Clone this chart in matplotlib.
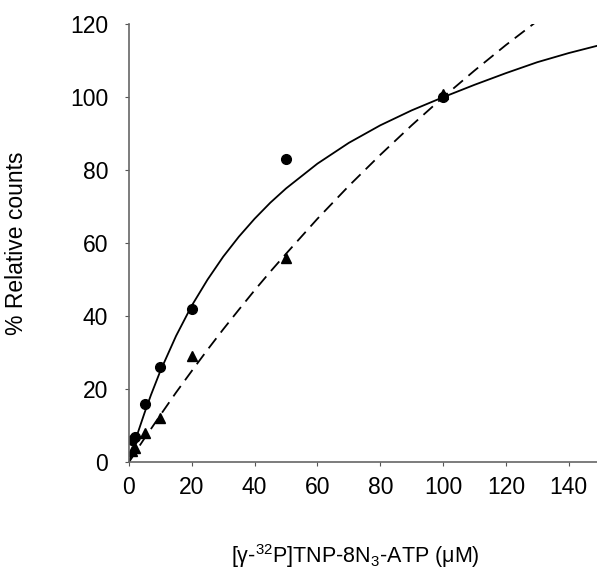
import matplotlib
matplotlib.use('Agg')
import matplotlib.pyplot as plt

plt.rcParams['font.family'] = ['Liberation Sans', 'DejaVu Sans']
plt.rcParams['mathtext.fontset'] = 'custom'
plt.rcParams['mathtext.rm'] = 'Liberation Sans'
plt.rcParams['mathtext.it'] = 'Liberation Sans:italic'

# measured points
conc_circ = [1, 2, 5, 10, 20, 50, 100]
counts_circ = [6, 7, 16, 26, 42, 83, 100]
conc_tri = [1, 2, 5, 10, 20, 50, 100]
counts_tri = [3, 4, 8, 12, 29, 56, 101]

# fitted curves
fit_x = [0, 1, 2, 3, 5, 7, 10, 15, 20, 25, 30, 35, 40, 45, 50, 60, 70, 80, 90,
         100, 110, 120, 130, 140, 150]
fit_solid = [0, 2.9, 5.8, 8.5, 13.6, 18.4, 25, 34.6, 42.9, 50.0, 56.3, 61.8, 66.7,
             71.1, 75, 81.8, 87.5, 92.3, 96.4, 100, 103.4, 106.6, 109.6, 112.1, 114.3]
fit_dash = [0, 1.3, 2.7, 4.0, 6.6, 9.1, 12.9, 19.1, 25, 30.8, 36.4, 41.8, 47.1,
            52.2, 57.1, 66.7, 75.7, 84.2, 92.3, 100, 107.3, 114.3, 120.9, 127.2, 133.3]

fig = plt.figure(figsize=(5.97, 5.77), dpi=100)
ax = fig.add_axes([0.216, 0.199, 0.784, 0.759])

ax.plot(fit_x, fit_solid, color='black', lw=1.3)
ax.plot(fit_x, fit_dash, color='black', lw=1.3, ls=(0, (7, 4)))
ax.plot(conc_circ, counts_circ, 'o', color='black', ms=7)
ax.plot(conc_tri, counts_tri, '^', color='black', ms=6.5)

ax.set_xlim(0, 149)
ax.set_ylim(0, 120)
ax.set_xticks(range(0, 141, 20))
ax.set_yticks(range(0, 121, 20))
ax.tick_params(labelsize=16.5, length=3, color='#555555')
ax.tick_params(axis='y', pad=12)
ax.tick_params(axis='x', pad=7)
for s in ['top', 'right']:
    ax.spines[s].set_visible(False)
for s in ['left', 'bottom']:
    ax.spines[s].set_color('#666666')
    ax.spines[s].set_linewidth(1.2)

ax.set_ylabel('% Relative counts', fontsize=16.5, labelpad=30)
fig.text(0.595, 0.036, '[γ-$^{32}$P]TNP-8N$_3$-ATP (μM)', fontsize=15.5,
         ha='center', va='center')

fig.savefig('out.png', dpi=100)
